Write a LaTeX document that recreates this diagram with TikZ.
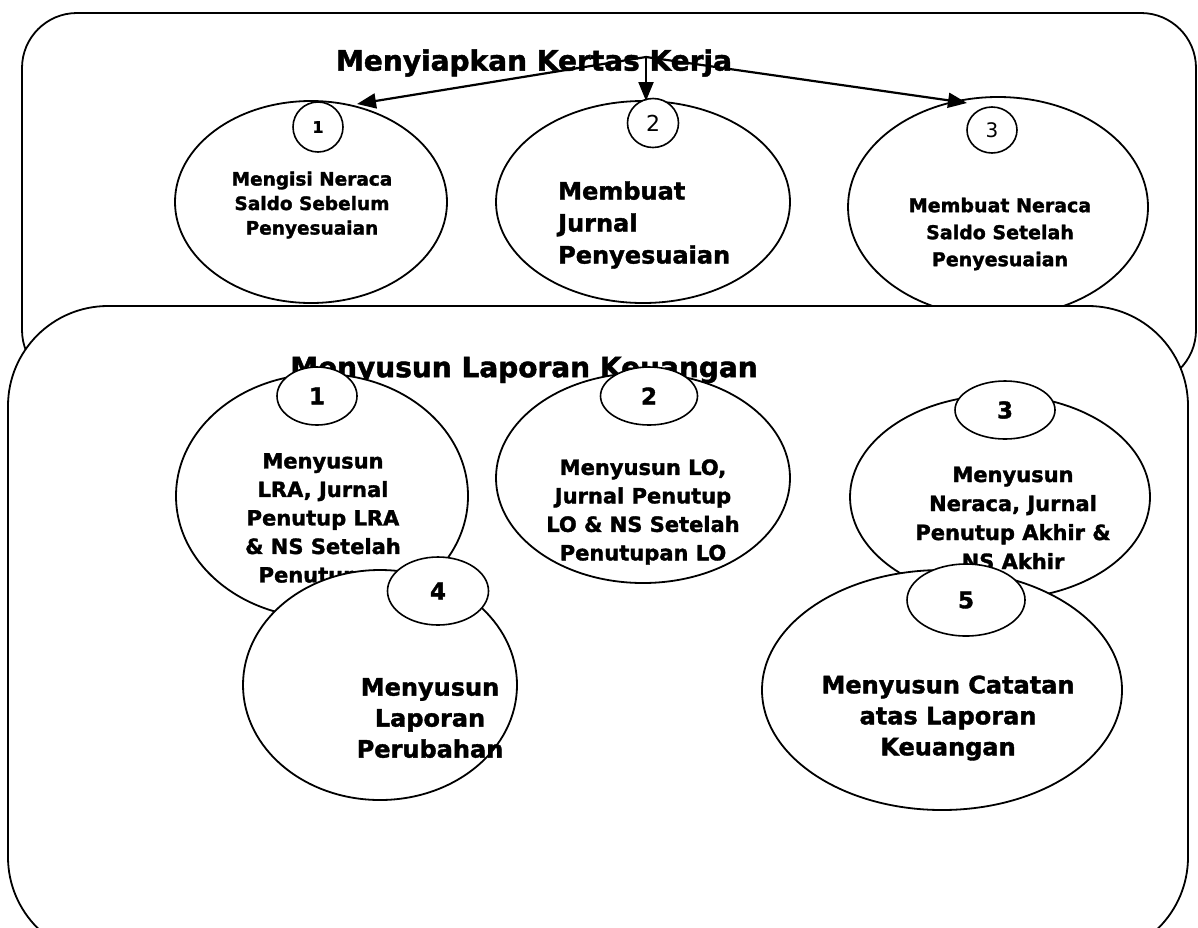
\documentclass[tikz,border=0pt]{standalone}
\usepackage{fontspec}
\setmainfont{DejaVu Sans}[BoldFeatures={FakeBold=1.6}]
\usetikzlibrary{shapes.geometric,arrows.meta}
\tikzset{
  frame/.style={draw, line width=1.8pt, fill=white, inner sep=0pt},
  bigell/.style={ellipse, draw, line width=1.8pt, fill=white, inner sep=0pt},
  numell/.style={ellipse, draw, line width=1.6pt, fill=white, inner sep=0pt},
  lbl/.style={align=center, inner sep=0pt},
  ttl/.style={inner sep=0pt, font=\fontsize{28}{32}\selectfont\bfseries},
  arr/.style={line width=2.2pt, -{Triangle[length=19pt,width=15pt]}}
}
\begin{document}
\begin{tikzpicture}[x=1pt,y=-1pt]
\useasboundingbox (0,0) rectangle (1198,927);
\clip (0,0) rectangle (1198,927);
% ---------- top frame ----------
\node[frame, rounded corners=55pt, minimum width=1174pt, minimum height=372pt] (topbox) at (609,199) {};
\node[ttl] (ttop) at (534,63) {Menyiapkan Kertas Kerja};
\node[bigell, minimum width=272pt, minimum height=202pt] (e1) at (311,202) {};
\node[bigell, minimum width=294pt, minimum height=202pt] (e2) at (643,202) {};
\node[bigell, minimum width=300pt, minimum height=220pt] (e3) at (998,207) {};
\node[lbl, font=\fontsize{18.5}{24.5}\selectfont\bfseries] (te1) at (312,205) {Mengisi Neraca\\Saldo Sebelum\\Penyesuaian};
\node[lbl, align=left, anchor=west, font=\fontsize{24}{32}\selectfont\bfseries] (te2) at (558,225) {Membuat\\Jurnal\\Penyesuaian};
\node[lbl, font=\fontsize{19}{27}\selectfont\bfseries] (te3) at (1000,234) {Membuat Neraca\\Saldo Setelah\\Penyesuaian};
\node[numell, minimum width=50pt, minimum height=50pt] (c1) at (318,127) {};
\node[numell, minimum width=51pt, minimum height=49pt] (c2) at (653,123) {};
\node[numell, minimum width=50pt, minimum height=46pt] (c3) at (992,130) {};
\node[font=\fontsize{16}{16}\selectfont\bfseries] (n1) at (c1) {1};
\node[font=\fontsize{22}{22}\selectfont] (n2) at (c2) {2};
\node[font=\fontsize{20}{20}\selectfont] (n3) at (c3) {3};
\coordinate (src) at (646,57);
\coordinate (tip1) at (357,104);
\coordinate (tip2) at (646,101);
\coordinate (tip3) at (967,103);
\draw[arr] (src) -- (tip1);
\draw[arr] (src) -- (tip2);
\draw[arr] (src) -- (tip3);
% ---------- bottom frame ----------
\node[frame, rounded corners=100pt, minimum width=1180pt, minimum height=651pt] (botbox) at (598,631.5) {};
\node[ttl] (tbot) at (524,370) {Menyusun Laporan Keuangan};
\node[bigell, minimum width=292pt, minimum height=244pt] (b1) at (322,496) {};
\node[bigell, minimum width=294pt, minimum height=210pt] (b2) at (643,478) {};
\node[bigell, minimum width=300pt, minimum height=204pt] (b3) at (1000,497) {};
\node[lbl, font=\fontsize{21}{28.5}\selectfont\bfseries] (tb1) at (323,520) {Menyusun\\LRA, Jurnal\\Penutup LRA\\\& NS Setelah\\Penutupan};
\node[lbl, font=\fontsize{21}{28.5}\selectfont\bfseries] (tb2) at (643,512) {Menyusun LO,\\Jurnal Penutup\\LO \& NS Setelah\\Penutupan LO};
\node[lbl, font=\fontsize{21}{29}\selectfont\bfseries] (tb3) at (1013,518) {Menyusun\\Neraca, Jurnal\\Penutup Akhir \&\\NS Akhir};
\node[numell, minimum width=80pt, minimum height=58pt] (d1) at (317,396) {};
\node[numell, minimum width=97pt, minimum height=58pt] (d2) at (649,396) {};
\node[numell, minimum width=100pt, minimum height=58pt] (d3) at (1005,410) {};
\node[font=\fontsize{23}{23}\selectfont\bfseries] (m1) at (d1) {1};
\node[font=\fontsize{23}{23}\selectfont\bfseries] (m2) at (d2) {2};
\node[font=\fontsize{23}{23}\selectfont\bfseries] (m3) at (d3) {3};
\node[bigell, minimum width=274pt, minimum height=230pt] (b4) at (380,685) {};
\node[bigell, minimum width=360pt, minimum height=240pt] (b5) at (942,690) {};
\node[lbl, font=\fontsize{24}{31}\selectfont\bfseries] (tb4) at (430,718) {Menyusun\\Laporan\\Perubahan};
\node[lbl, font=\fontsize{24}{31}\selectfont\bfseries] (tb5) at (948,718) {Menyusun Catatan\\atas Laporan\\Keuangan};
\node[numell, minimum width=101pt, minimum height=68pt] (d4) at (438,591) {};
\node[numell, minimum width=118pt, minimum height=72pt] (d5) at (966,600) {};
\node[font=\fontsize{23}{23}\selectfont\bfseries] (m4) at (d4) {4};
\node[font=\fontsize{23}{23}\selectfont\bfseries] (m5) at (d5) {5};
\end{tikzpicture}
\end{document}
